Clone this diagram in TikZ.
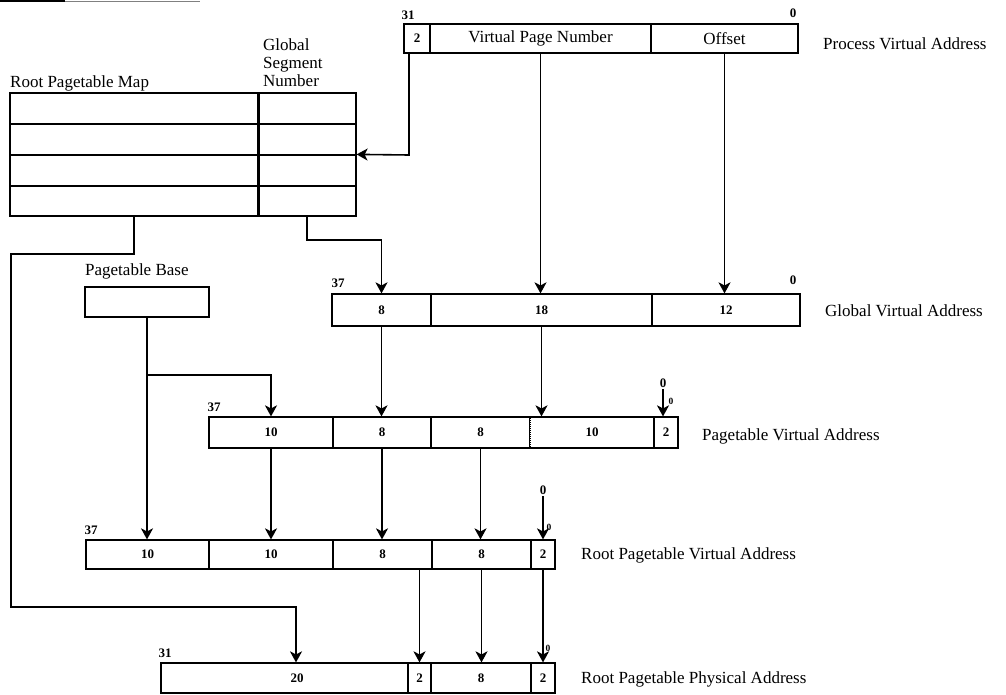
\documentclass[tikz,border=0pt]{standalone}
\usepackage{fontspec}
\setmainfont{Liberation Serif}
\usetikzlibrary{arrows.meta}
\newcommand{\regfield}[7][]{\node[fld,#1,minimum width={(#4-#3)*1pt},minimum height={(#6-#5)*1pt}] (#2) at ({(#3+#4)/2},{(#5+#6)/2}) {#7};}
\begin{document}
\begin{tikzpicture}[x=1pt,y=-1pt,
  lbl/.style={font=\fontsize{17}{18}\selectfont, inner sep=0pt},
  num/.style={font=\bfseries\fontsize{13}{15}\selectfont, inner sep=0pt, outer sep=2pt},
  tinynum/.style={font=\bfseries\fontsize{9.5}{10}\selectfont, inner sep=0pt},
  fld/.style={draw, line width=1.2pt, inner sep=0pt, font=\bfseries\fontsize{13}{15}\selectfont},
  frame/.style={draw, line width=2pt, inner sep=0pt},
  conn/.style={line width=1.6pt},
  arr/.style={conn, -{Stealth[length=11pt,width=12pt,inset=3pt]}},
]
\useasboundingbox (0,0) rectangle (1006,695);
% scan edge line at top left
\draw[line width=1.2pt] (0,1) -- (65,1);
\draw[gray, line width=0.8pt] (65,1) -- (200,1);

% ---------- Root Pagetable Map ----------
\regfield{t1l}{10}{258}{93}{124}{}
\regfield{t1r}{258}{356}{93}{124}{}
\regfield{t2l}{10}{258}{124}{155}{}
\regfield{t2r}{258}{356}{124}{155}{}
\regfield{t3l}{10}{258}{155}{186}{}
\regfield{t3r}{258}{356}{155}{186}{}
\regfield{t4l}{10}{258}{186}{216}{}
\regfield{t4r}{258}{356}{186}{216}{}
\node[frame, minimum width=346pt, minimum height=123pt] (tframe) at (183,154.5) {};
\draw[line width=1.9pt] (t1l.north east) -- (t4l.south east);
\node[lbl, anchor=base west] (rpm) at (10,88) {Root Pagetable Map};
\node[lbl, anchor=north west, align=left] (gsn) at (263,39) {Global\\Segment\\Number};

% ---------- Process Virtual Address ----------
\regfield{p1}{404}{430}{24}{53}{2}
\regfield[font=\fontsize{17}{18}\selectfont]{p2}{430}{651}{24}{53}{Virtual Page Number}
\regfield[font=\fontsize{17}{18}\selectfont]{p3}{651}{798}{24}{53}{Offset}
\node[frame, minimum width=394pt, minimum height=29pt] (pframe) at (601,38.5) {};
\node[num] (p31) at (408,15) {31};
\node[num] (p0) at (793,13) {0};
\node[lbl, anchor=west] (pva) at (823,44) {Process Virtual Address};

% ---------- Global Virtual Address ----------
\regfield{g1}{332}{431}{294}{326}{8}
\regfield{g2}{431}{652}{294}{326}{18}
\regfield{g3}{652}{800}{294}{326}{12}
\node[frame, minimum width=468pt, minimum height=32pt] (gframe) at (566,310) {};
\node[num] (g37) at (338,283) {37};
\node[num] (g0) at (793,280) {0};
\node[lbl, anchor=west] (gva) at (825,311) {Global Virtual Address};

% ---------- Pagetable Base ----------
\node[frame, line width=1.7pt, minimum width=124pt, minimum height=30pt] (pb) at (147,302) {};
\node[lbl, anchor=base west] (pbl) at (85,275) {Pagetable Base};

% ---------- Pagetable Virtual Address ----------
\regfield{pt1}{209}{333}{417}{448}{10}
\regfield{pt2}{333}{431}{417}{448}{8}
\regfield{pt3}{431}{530}{417}{448}{8}
\regfield{pt4}{530}{654}{417}{448}{10}
\regfield{pt5}{654}{678}{417}{448}{2}
\draw[white, line width=2pt, shorten <=1.5pt, shorten >=1.5pt] (pt3.north east) -- (pt3.south east);
\draw[densely dotted, line width=1pt, shorten <=1.5pt, shorten >=1.5pt] (pt3.north east) -- (pt3.south east);
\node[frame, minimum width=469pt, minimum height=31pt] (ptframe) at (443.5,432.5) {};
\node[num] (pt37) at (214,407) {37};
\node[lbl, anchor=west] (ptva) at (702,436) {Pagetable Virtual Address};

% ---------- Root Pagetable Virtual Address ----------
\regfield{rv1}{86}{209}{540}{569}{10}
\regfield{rv2}{209}{333}{540}{569}{10}
\regfield{rv3}{333}{432}{540}{569}{8}
\regfield{rv4}{432}{531}{540}{569}{8}
\regfield{rv5}{531}{555}{540}{569}{2}
\node[frame, minimum width=469pt, minimum height=29pt] (rvframe) at (320.5,554.5) {};
\node[num] (rv37) at (91,530) {37};
\node[lbl, anchor=west] (rpva) at (581,555) {Root Pagetable Virtual Address};

% ---------- Root Pagetable Physical Address ----------
\regfield{ph1}{161}{408}{663}{693}{\hspace*{25pt}20}
\regfield{ph2}{408}{431}{663}{693}{2}
\regfield{ph3}{431}{531}{663}{693}{8}
\regfield{ph4}{531}{555}{663}{693}{2}
\node[frame, minimum width=394pt, minimum height=30pt] (phframe) at (358,678) {};
\node[num] (ph31) at (165,653) {31};
\node[lbl, anchor=west] (rppa) at (581,679) {Root Pagetable Physical Address};

% ---------- bit-0 markers ----------
\node[num] (z1) at (663,383) {0};
\node[tinynum] (z1o) at (671,401) {0};
\node[num] (z2) at (543,490) {0};
\node[tinynum] (z2o) at (549,527) {0};
\node[tinynum] (z3o) at (548,648) {0};

% ---------- connectors ----------
\coordinate (k0) at (409,155);
\draw[arr] (p1.south -| k0) -- (k0) -- (t3r.north east);
\coordinate (k1) at (308,240);
\draw[arr] (t4r.south) |- (k1) -| (g1.north);
\draw[arr] (p2.south) -- (p2.south |- g2.north);
\draw[arr] (p3.south) -- (p3.south |- g3.north);
\coordinate (k2) at (11,254);
\coordinate (k3) at (11,607);
\coordinate (k4) at (296,607);
\draw[arr] (t4l.south) |- (k2) -- (k3) -- (k4) -- (k4 |- ph1.north);

\draw[arr] (pb.south) -- (pb.south |- rv1.north);
\coordinate (k5) at (147,375);
\draw[arr] (k5) -| (pt1.north);

\draw[arr] (g1.south) -- (g1.south |- pt2.north);
\draw[arr] (g2.south) -- (g2.south |- pt4.north);
\draw[arr] (z1) -- (z1 |- pt5.north);

\draw[arr] (pt1.south) -- (pt1.south |- rv2.north);
\draw[arr] (pt2.south) -- (pt2.south |- rv3.north);
\draw[arr] (pt3.south) -- (pt3.south |- rv4.north);
\draw[arr] (z2) -- (z2 |- rv5.north);

\draw[arr] (ph2.north |- rv3.south) -- (ph2.north);
\draw[arr] (rv4.south) -- (rv4.south |- ph3.north);
\draw[arr] (rv5.south) -- (rv5.south |- ph4.north);
\end{tikzpicture}
\end{document}
